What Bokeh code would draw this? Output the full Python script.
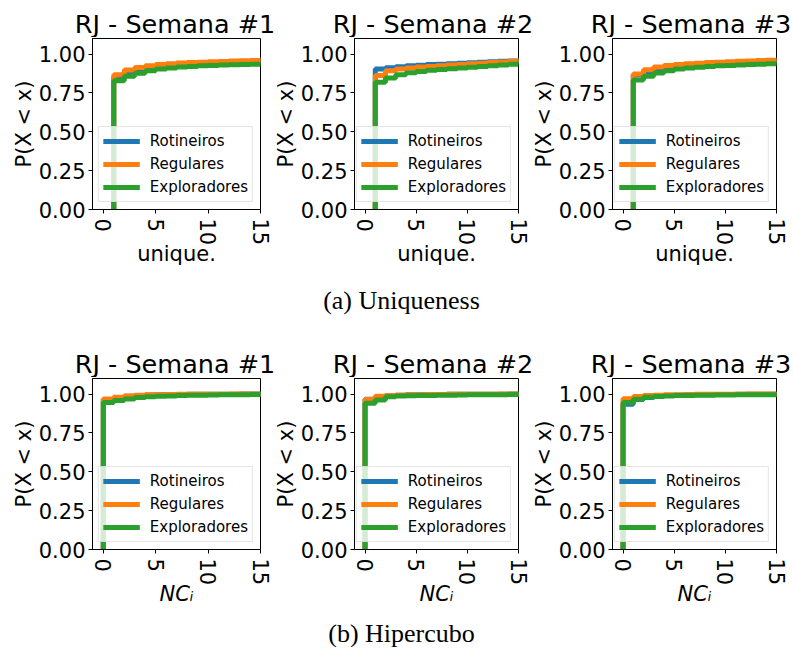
from bokeh.plotting import figure
from bokeh.layouts import column, row
from bokeh.models import Range1d, FixedTicker, NumeralTickFormatter, Legend, LegendItem
from bokeh.embed import file_html
from bokeh.resources import INLINE

groups = ["Rotineiros", "Regulares", "Exploradores"]
colors = ["#1f77b4", "#ff7f0e", "#2ca02c"]
weeks = ["RJ - Semana #1", "RJ - Semana #2", "RJ - Semana #3"]
captions = ["(a) Uniqueness", "(b) Hipercubo"]
x_labels = ["unique.", "NC\u1d62"]
y_label = "P(X < x)"
x_ticks = [0, 5, 10, 15]
y_ticks = [0, 0.25, 0.5, 0.75, 1.0]

# Uniqueness CDF values at x = 1..15
uniq_x = [1, 2, 3, 4, 5, 6, 7, 8, 9, 10, 11, 12, 13, 14, 15]
uniq_w1_rot = [0.852, 0.884, 0.903, 0.915, 0.923, 0.929, 0.935, 0.939, 0.942, 0.945, 0.947, 0.950, 0.952, 0.954, 0.956]
uniq_w1_reg = [0.867, 0.897, 0.914, 0.925, 0.933, 0.938, 0.942, 0.945, 0.948, 0.950, 0.952, 0.955, 0.957, 0.959, 0.961]
uniq_w1_exp = [0.829, 0.857, 0.876, 0.893, 0.904, 0.910, 0.916, 0.920, 0.924, 0.927, 0.929, 0.931, 0.933, 0.935, 0.937]
uniq_w2_rot = [0.904, 0.912, 0.918, 0.924, 0.928, 0.932, 0.935, 0.938, 0.941, 0.944, 0.947, 0.950, 0.953, 0.956, 0.960]
uniq_w2_reg = [0.862, 0.893, 0.903, 0.910, 0.916, 0.920, 0.925, 0.929, 0.933, 0.937, 0.941, 0.945, 0.949, 0.953, 0.957]
uniq_w2_exp = [0.818, 0.846, 0.867, 0.880, 0.888, 0.895, 0.900, 0.905, 0.910, 0.915, 0.920, 0.925, 0.930, 0.935, 0.942]
uniq_w3_rot = [0.866, 0.885, 0.905, 0.915, 0.922, 0.928, 0.933, 0.937, 0.941, 0.944, 0.947, 0.950, 0.953, 0.955, 0.957]
uniq_w3_reg = [0.872, 0.899, 0.917, 0.926, 0.932, 0.937, 0.941, 0.945, 0.948, 0.951, 0.954, 0.956, 0.958, 0.960, 0.962]
uniq_w3_exp = [0.833, 0.857, 0.878, 0.893, 0.903, 0.910, 0.915, 0.920, 0.924, 0.927, 0.930, 0.933, 0.935, 0.937, 0.940]

# Hipercubo (NC_i) CDF values at x = 0..15
nc_x = [0, 1, 2, 3, 4, 5, 6, 7, 8, 9, 10, 11, 12, 13, 14, 15]
nc_w1_rot = [0.965, 0.977, 0.986, 0.991, 0.994, 0.995, 0.996, 0.997, 0.998, 0.998, 0.999, 0.999, 0.999, 1.0, 1.0, 1.0]
nc_w1_reg = [0.968, 0.979, 0.988, 0.993, 0.995, 0.996, 0.997, 0.998, 0.998, 0.999, 0.999, 0.999, 1.0, 1.0, 1.0, 1.0]
nc_w1_exp = [0.945, 0.958, 0.968, 0.977, 0.982, 0.986, 0.988, 0.990, 0.992, 0.993, 0.994, 0.995, 0.996, 0.996, 0.997, 0.997]
nc_w2_rot = [0.967, 0.985, 0.990, 0.993, 0.995, 0.996, 0.997, 0.997, 0.998, 0.998, 0.999, 0.999, 0.999, 0.999, 1.0, 1.0]
nc_w2_reg = [0.965, 0.986, 0.990, 0.993, 0.995, 0.996, 0.997, 0.997, 0.998, 0.998, 0.999, 0.999, 0.999, 1.0, 1.0, 1.0]
nc_w2_exp = [0.940, 0.962, 0.982, 0.987, 0.989, 0.990, 0.991, 0.992, 0.993, 0.994, 0.995, 0.995, 0.996, 0.996, 0.997, 0.997]
nc_w3_rot = [0.935, 0.965, 0.978, 0.986, 0.990, 0.992, 0.994, 0.995, 0.996, 0.997, 0.997, 0.998, 0.998, 0.999, 0.999, 0.999]
nc_w3_reg = [0.970, 0.985, 0.990, 0.993, 0.995, 0.996, 0.997, 0.998, 0.998, 0.999, 0.999, 0.999, 1.0, 1.0, 1.0, 1.0]
nc_w3_exp = [0.945, 0.967, 0.980, 0.985, 0.988, 0.990, 0.991, 0.992, 0.993, 0.994, 0.994, 0.995, 0.995, 0.996, 0.996, 0.996]

uniq_series = [
    [uniq_w1_rot, uniq_w1_reg, uniq_w1_exp],
    [uniq_w2_rot, uniq_w2_reg, uniq_w2_exp],
    [uniq_w3_rot, uniq_w3_reg, uniq_w3_exp],
]
nc_series = [
    [nc_w1_rot, nc_w1_reg, nc_w1_exp],
    [nc_w2_rot, nc_w2_reg, nc_w2_exp],
    [nc_w3_rot, nc_w3_reg, nc_w3_exp],
]

FONT = "DejaVu Sans"
LEFT = [81, 77, 77]
RIGHT = [10, 10, 14]
FRAME = 171
TOTAL_W = sum(LEFT) + sum(RIGHT) + 3 * FRAME


def step_xy(xs, ys):
    px = [xs[0]]
    py = [0.0]
    for i, (x, y) in enumerate(zip(xs, ys)):
        nx = xs[i + 1] if i + 1 < len(xs) else x + 1
        px += [x, nx]
        py += [y, y]
    return px, py


def panel(k, xs, series, xlabel, italic):
    p = figure(width=LEFT[k] + FRAME + RIGHT[k], height=1 + FRAME + 61, output_backend="svg",
               toolbar_location=None,
               x_range=Range1d(-1.03, 15), y_range=Range1d(0, 1.1),
               min_border_left=LEFT[k], min_border_right=RIGHT[k], min_border_top=1, min_border_bottom=61)
    p.xgrid.visible = False
    p.ygrid.visible = False
    p.outline_line_color = "black"
    p.outline_line_width = 1
    p.outline_line_alpha = 1
    p.background_fill_color = "white"
    p.border_fill_color = "white"

    renderers = []
    for ys, c in zip(series, colors):
        px, py = step_xy(xs, ys)
        r = p.line(px, py, line_color=c, line_width=5)
        renderers.append(r)

    for ax in (p.xaxis[0], p.yaxis[0]):
        ax.axis_line_color = "black"
        ax.major_tick_line_color = "black"
        ax.major_tick_out = 4
        ax.major_tick_in = 0
        ax.minor_tick_line_color = None
        ax.major_label_text_font = FONT
        ax.major_label_text_font_size = "21px"
        ax.major_label_text_color = "black"
        ax.axis_label_text_font = FONT
        ax.axis_label_text_font_size = "21px"
        ax.axis_label_text_color = "black"

    p.xaxis.ticker = FixedTicker(ticks=x_ticks)
    p.xaxis.major_label_orientation = "vertical"
    p.xaxis.major_label_standoff = 5
    p.xaxis.axis_label = xlabel
    p.xaxis.axis_label_text_font_style = "italic" if italic else "normal"
    p.xaxis.axis_label_standoff = -6

    p.yaxis.ticker = FixedTicker(ticks=y_ticks)
    p.yaxis.formatter = NumeralTickFormatter(format="0.00")
    p.yaxis.major_label_standoff = 3
    p.yaxis.axis_label = y_label
    p.yaxis.axis_label_text_font_style = "normal"
    p.yaxis.axis_label_standoff = 0

    legend = Legend(items=[LegendItem(label=g, renderers=[r]) for g, r in zip(groups, renderers)],
                    location="bottom_right")
    legend.margin = 7
    legend.padding = 4
    legend.spacing = 3
    legend.label_standoff = 10
    legend.glyph_width = 37
    legend.glyph_height = 20
    legend.label_height = 20
    legend.label_text_font = FONT
    legend.label_text_font_size = "15px"
    legend.label_text_color = "black"
    legend.border_line_color = "#cccccc"
    legend.border_line_width = 1
    legend.background_fill_color = "white"
    legend.background_fill_alpha = 0.8
    p.add_layout(legend)
    return p


def strip(h):
    c = figure(width=TOTAL_W, height=h, output_backend="svg", toolbar_location=None,
               x_range=Range1d(0, TOTAL_W), y_range=Range1d(h, 0),
               x_axis_type=None, y_axis_type=None, min_border=0)
    c.outline_line_color = None
    c.xgrid.visible = False
    c.ygrid.visible = False
    return c


def title_strip():
    c = strip(29)
    centers = []
    x0 = 0
    for k in range(3):
        centers.append(x0 + LEFT[k] + FRAME / 2)
        x0 += LEFT[k] + FRAME + RIGHT[k]
    c.text(x=centers, y=[15] * 3, text=weeks, text_align="center", text_baseline="middle",
           text_font={"value": FONT}, text_font_size="25.5px", text_color="black")
    return c


def caption_fig(text, h, ty):
    c = strip(h)
    c.text(x=[393], y=[ty], text=[text], text_align="center", text_baseline="middle",
           text_font={"value": "Liberation Serif"}, text_font_size="26px", text_color="black")
    return c


row1 = row([panel(i, uniq_x, uniq_series[i], x_labels[0], False) for i in range(3)])
cap1 = caption_fig(captions[0], 78, 30)
row2 = row([panel(i, nc_x, nc_series[i], x_labels[1], True) for i in range(3)])
cap2 = caption_fig(captions[1], 37, 23)

layout = column(title_strip(), row1, cap1, title_strip(), row2, cap2, margin=(8, 0, 0, 8))
open("out.html", "w").write(file_html(layout, INLINE))
